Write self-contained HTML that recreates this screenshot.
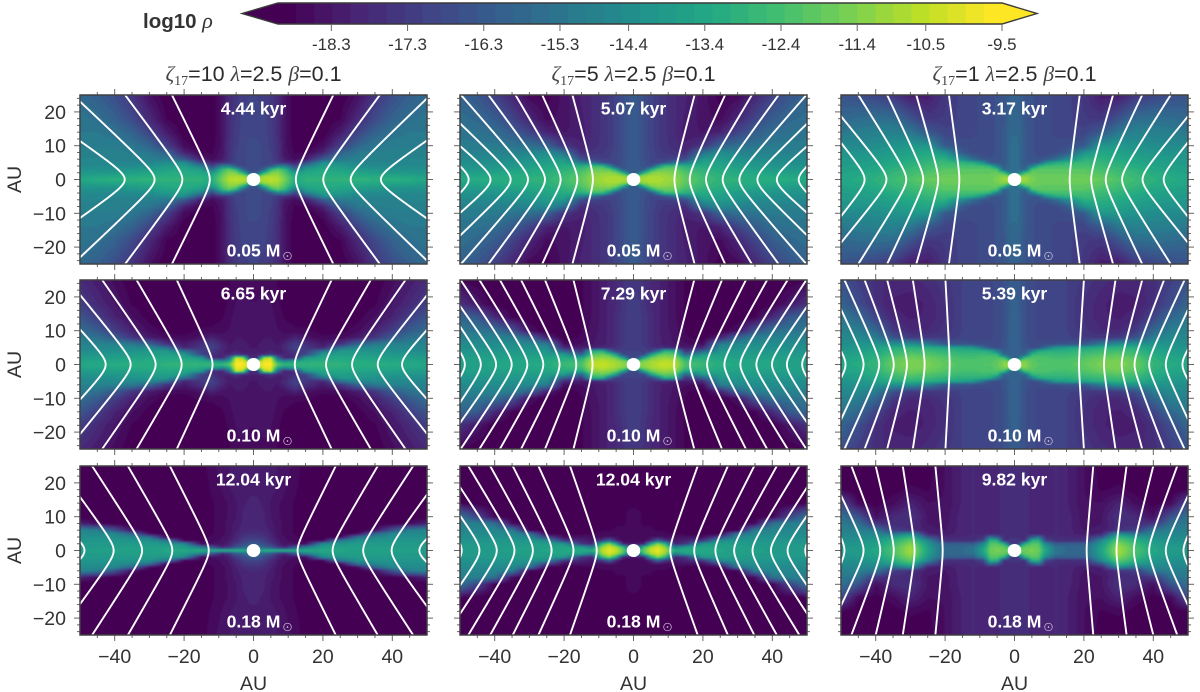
<!DOCTYPE html>
<html lang="en">
<head>
<meta charset="utf-8">
<title>Density maps</title>
<style>
html,body{margin:0;padding:0;background:#fff;width:1200px;height:692px;overflow:hidden}
#stage{position:relative;width:1200px;height:692px}
canvas{position:absolute;display:block;filter:blur(0.5px)}
svg{position:absolute;left:0;top:0}
text{font-family:"Liberation Sans",sans-serif}
</style>
</head>
<body>
<div id="stage">
<svg id="overlay" width="1200" height="692" viewBox="0 0 1200 692"></svg>
</div>
<script>
/* ---------- shared axes of the density grids (AU, mirrored about 0) ---------- */
const gridAbsX = [1,3,5,7,9,12,15,20,25,30,35,40,45,50];
const gridAbsY = [0,1,2,3,4,5,6,8,10,14,18,25];

/* ---------- tick labels ---------- */
const xTickValues = [-40,-20,0,20,40];
const xMinorValues = [-45,-35,-30,-25,-15,-10,-5,5,10,15,25,30,35,45];
const yTickValues = [-20,-10,0,10,20];
const yMinorValues = [-24,-22,-18,-16,-14,-12,-8,-6,-4,-2,2,4,6,8,12,14,16,18,22,24];
const colorbarTickValues = [-18.3,-17.3,-16.3,-15.3,-14.4,-13.4,-12.4,-11.4,-10.5,-9.5];
const colorbarTickLabels = ["-18.3","-17.3","-16.3","-15.3","-14.4","-13.4","-12.4","-11.4","-10.5","-9.5"];
const columnZeta = ["10","5","1"];
const timeLabels = ["4.44 kyr","5.07 kyr","3.17 kyr","6.65 kyr","7.29 kyr","5.39 kyr","12.04 kyr","12.04 kyr","9.82 kyr"];
const massLabels = ["0.05 M","0.05 M","0.05 M","0.10 M","0.10 M","0.10 M","0.18 M","0.18 M","0.18 M"];

/* ---------- density grids: values are -log10(rho), rows follow gridAbsY, columns gridAbsX ---------- */
const heatR1C1 = [
[10.8,10.7,10.6,10.7,11.5,13.2,13.0,12.9,12.9,12.9,13.0,13.0,13.2,13.4],
[11.8,11.0,10.8,10.9,11.8,13.4,13.1,13.1,13.1,13.2,13.3,13.4,13.5,13.7],
[16.5,13.0,11.5,11.3,12.2,13.9,13.4,13.2,13.3,13.5,13.7,13.9,14.0,14.0],
[16.8,16.0,13.0,12.0,12.8,15.5,13.8,13.4,13.6,13.9,14.1,14.3,14.3,14.3],
[16.8,16.9,16.5,15.0,15.0,17.0,15.0,13.7,13.9,14.3,14.5,14.5,14.5,14.5],
[16.8,16.9,17.0,17.3,17.6,18.0,16.8,14.4,14.4,14.7,14.7,14.7,14.6,14.6],
[16.8,16.9,17.1,17.5,18.2,18.6,18.2,16.3,15.1,14.9,14.8,14.8,14.7,14.7],
[16.8,16.9,17.1,17.6,18.4,18.8,18.8,18.0,16.0,15.2,15.0,14.9,14.9,14.9],
[16.8,16.9,17.2,17.6,18.4,18.9,19.0,18.6,17.2,15.9,15.2,15.0,15.0,15.0],
[16.9,17.0,17.2,17.7,18.4,19.0,19.0,19.0,18.2,17.0,16.0,15.4,15.2,15.2],
[17.0,17.0,17.3,17.7,18.4,19.0,19.0,19.0,18.8,17.8,16.8,16.0,15.5,15.3],
[17.1,17.2,17.4,17.8,18.4,19.0,19.0,19.0,19.0,18.5,17.5,16.7,16.1,15.7]];
const heatR1C2 = [
[10.9,10.9,10.8,10.8,10.9,11.2,11.9,12.5,12.9,13.0,13.1,13.1,13.2,13.3],
[11.5,11.0,10.9,10.9,11.0,11.3,12.0,12.6,13.0,13.1,13.2,13.3,13.4,13.5],
[16.3,13.0,11.5,11.2,11.3,11.5,12.2,12.8,13.1,13.3,13.4,13.6,13.7,13.8],
[16.3,16.3,13.5,12.0,11.8,11.9,12.6,13.0,13.3,13.5,13.7,13.9,14.0,14.0],
[16.3,16.5,16.8,14.5,12.7,12.6,13.1,13.2,13.5,13.8,14.0,14.1,14.2,14.2],
[16.3,16.5,16.9,17.0,16.5,15.5,15.0,13.5,13.7,14.0,14.2,14.3,14.4,14.4],
[16.3,16.6,16.9,17.1,17.1,17.0,16.7,13.9,13.9,14.2,14.4,14.5,14.5,14.5],
[16.3,16.6,16.9,17.2,17.4,17.5,17.7,15.5,14.4,14.8,14.8,14.8,14.9,14.9],
[16.3,16.6,17.0,17.3,17.5,17.7,18.0,17.5,16.0,15.5,15.3,15.1,15.1,15.1],
[16.3,16.6,17.0,17.3,17.5,17.8,18.2,18.3,18.0,17.0,16.2,15.6,15.4,15.3],
[16.3,16.7,17.0,17.3,17.5,17.8,18.1,18.4,18.6,17.9,17.0,16.2,15.8,15.5],
[16.3,16.7,17.0,17.3,17.5,17.8,18.0,18.4,18.9,18.7,17.9,17.1,16.4,16.0]];
const heatR1C3 = [
[11.0,11.0,11.5,11.7,11.7,11.7,11.6,11.6,11.8,12.2,12.6,13.0,13.2,13.4],
[11.3,11.2,11.6,11.8,11.8,11.8,11.8,11.8,12.0,12.4,12.7,13.1,13.3,13.5],
[15.5,12.5,11.8,11.9,11.9,11.9,11.9,11.9,12.2,12.5,12.8,13.2,13.4,13.6],
[15.5,16.0,12.4,12.1,12.1,12.1,12.1,12.1,12.4,12.7,13.0,13.4,13.6,13.7],
[15.5,16.2,15.0,13.0,12.5,12.4,12.4,12.4,12.6,12.9,13.2,13.5,13.7,13.8],
[15.6,16.3,16.4,16.2,14.3,13.2,12.9,12.7,12.8,13.1,13.4,13.7,13.8,13.9],
[15.6,16.3,16.5,16.6,16.4,15.6,14.5,13.0,13.0,13.3,13.5,13.8,13.9,14.0],
[15.6,16.3,16.6,16.7,16.8,16.7,16.3,14.2,13.4,13.6,13.9,14.1,14.2,14.2],
[15.6,16.3,16.6,16.7,16.8,16.8,16.7,16.3,14.0,14.0,14.2,14.4,14.5,14.5],
[15.7,16.3,16.6,16.7,16.8,16.9,17.0,17.0,16.3,15.2,14.8,14.9,15.0,15.2],
[15.8,16.4,16.6,16.7,16.8,16.9,17.0,17.3,17.4,16.5,15.6,15.5,15.6,15.8],
[16.1,16.4,16.6,16.7,16.8,16.9,17.0,17.4,18.2,18.2,17.4,17.0,16.7,16.5]];
const heatR2C1 = [
[10.5,9.7,9.6,12.0,12.8,12.8,12.9,12.9,13.0,13.1,13.2,13.2,13.3,13.5],
[11.5,9.9,9.8,13.5,14.5,13.5,13.2,13.1,13.1,13.2,13.3,13.4,13.5,13.6],
[18.0,11.0,10.3,16.0,18.0,17.8,14.0,13.4,13.4,13.5,13.6,13.7,13.8,13.9],
[18.0,18.0,17.5,18.0,18.0,17.5,17.0,13.9,13.7,13.8,13.9,14.0,14.1,14.1],
[18.2,18.1,18.0,18.2,18.0,17.3,17.2,15.5,14.0,14.0,14.2,14.3,14.4,14.4],
[18.3,18.2,18.2,18.2,17.8,17.0,17.4,18.0,15.5,14.5,14.5,14.5,14.6,14.6],
[18.3,18.2,18.2,18.3,17.9,17.2,17.6,18.2,17.5,15.9,15.1,14.8,14.8,14.8],
[18.4,18.3,18.3,18.4,18.4,18.0,18.4,18.7,18.6,18.2,17.4,16.3,15.4,15.1],
[18.4,18.4,18.4,18.5,18.6,18.7,18.7,18.9,18.9,18.6,18.0,17.2,16.2,15.6],
[18.4,18.4,18.4,18.6,18.8,18.9,19.0,19.0,19.0,18.9,18.5,18.0,17.2,16.4],
[18.5,18.4,18.5,18.7,18.9,19.0,19.0,19.0,19.0,19.0,18.8,18.3,17.8,17.2],
[18.7,18.6,18.6,18.8,19.0,19.0,19.0,19.0,19.0,19.0,19.0,18.6,18.2,17.8]];
const heatR2C2 = [
[11.4,11.2,10.9,10.6,10.4,10.6,12.3,12.7,13.2,13.3,13.4,13.5,13.6,13.6],
[12.0,11.4,11.0,10.8,10.6,10.8,12.6,12.9,13.3,13.4,13.5,13.5,13.6,13.7],
[17.0,13.5,11.8,11.3,11.1,11.3,13.5,13.2,13.5,13.6,13.6,13.7,13.7,13.8],
[17.0,17.0,14.0,12.3,11.8,12.2,16.0,14.0,13.8,13.8,13.8,13.9,13.9,14.0],
[17.1,17.2,17.2,15.5,13.0,13.2,17.5,16.0,14.1,14.0,14.0,14.1,14.1,14.2],
[17.1,17.3,17.5,17.8,17.8,18.0,18.2,17.8,14.4,14.3,14.2,14.3,14.3,14.3],
[17.1,17.4,17.7,18.0,18.1,18.3,18.5,18.5,15.0,14.5,14.4,14.4,14.4,14.5],
[17.1,17.4,17.7,18.0,18.1,18.4,18.7,19.0,18.0,16.0,14.9,14.8,14.8,14.9],
[17.1,17.4,17.7,18.0,18.2,18.4,18.8,19.0,19.0,18.5,16.5,15.5,15.3,15.2],
[17.2,17.4,17.7,18.0,18.2,18.5,18.8,19.0,19.0,19.0,18.8,17.8,16.3,15.8],
[17.2,17.5,17.8,18.0,18.2,18.5,18.8,19.0,19.0,19.0,19.0,19.0,18.3,17.6],
[17.5,17.6,17.8,18.0,18.2,18.5,18.8,19.0,19.0,19.0,19.0,19.0,19.0,18.8]];
const heatR2C3 = [
[11.3,11.3,11.9,12.1,12.1,12.2,12.2,11.9,11.5,11.4,11.8,12.8,13.2,13.4],
[11.5,11.4,12.0,12.2,12.2,12.3,12.3,12.0,11.6,11.5,11.9,12.9,13.3,13.5],
[16.0,12.5,12.2,12.3,12.3,12.4,12.4,12.2,11.8,11.7,12.1,13.0,13.4,13.6],
[16.0,16.0,12.8,12.7,12.7,12.7,12.7,12.5,12.2,12.1,12.5,13.2,13.6,13.8],
[16.0,16.3,15.0,13.3,13.0,13.0,13.0,12.9,12.6,12.5,12.8,13.4,13.8,14.0],
[16.0,16.5,16.7,16.5,15.5,14.0,13.7,13.5,13.1,13.0,13.2,13.7,14.0,14.2],
[16.0,16.5,16.8,16.8,16.7,16.6,16.5,16.3,15.0,14.2,14.2,14.1,14.2,14.4],
[16.0,16.6,16.8,16.9,17.0,17.0,17.0,17.3,17.4,17.3,16.5,15.0,14.5,14.6],
[16.0,16.6,16.8,16.9,17.0,17.0,17.1,17.5,17.8,17.8,17.3,15.8,14.9,14.8],
[16.0,16.6,16.8,16.9,17.0,17.0,17.1,17.6,18.0,18.1,17.9,17.0,15.8,15.2],
[16.1,16.6,16.8,16.9,17.0,17.0,17.1,17.6,18.0,18.2,18.1,17.6,16.7,15.9],
[16.3,16.6,16.8,16.9,17.0,17.0,17.1,17.4,17.7,17.9,17.9,17.7,17.2,16.6]];
const heatR3C1 = [
[14.0,12.9,12.9,13.0,13.0,13.0,13.2,13.4,13.5,13.6,13.6,13.7,13.7,13.8],
[15.5,16.0,16.5,17.5,18.0,16.5,15.0,13.7,13.6,13.7,13.7,13.8,13.8,13.9],
[16.3,16.8,17.3,18.0,18.4,18.5,18.7,14.5,14.0,13.9,13.9,13.9,13.9,13.9],
[16.9,17.2,17.7,18.2,18.5,18.6,18.8,18.7,15.3,14.2,14.1,14.1,14.1,14.1],
[17.3,17.5,17.9,18.3,18.5,18.7,18.9,19.0,18.8,15.5,14.6,14.3,14.3,14.3],
[17.6,17.7,18.0,18.4,18.6,18.8,19.0,19.0,19.0,18.6,16.0,14.6,14.5,14.5],
[17.8,17.9,18.1,18.4,18.6,18.8,19.0,19.0,19.0,19.0,18.5,16.5,14.9,14.7],
[17.9,18.0,18.2,18.4,18.6,18.8,19.0,19.0,19.0,19.0,19.0,19.0,18.6,18.0],
[17.9,18.0,18.3,18.5,18.6,18.8,19.0,19.0,19.0,19.0,19.0,19.0,19.0,19.0],
[18.0,18.1,18.3,18.5,18.6,18.8,19.0,19.0,19.0,19.0,19.0,19.0,19.0,19.0],
[18.1,18.1,18.2,18.3,18.5,18.7,19.0,19.0,19.0,19.0,19.0,19.0,19.0,19.0],
[18.2,18.2,18.2,18.3,18.4,18.6,18.9,19.0,19.0,19.0,19.0,19.0,19.0,19.0]];
const heatR3C2 = [
[14.0,11.8,10.4,9.9,10.6,13.2,13.2,13.3,13.5,13.6,13.7,13.8,13.8,13.8],
[16.0,12.5,10.9,10.2,11.0,15.0,13.7,13.5,13.6,13.7,13.8,13.8,13.9,13.9],
[18.3,18.0,13.5,11.3,12.8,18.0,17.5,14.0,13.8,13.8,13.9,13.9,14.0,14.0],
[18.7,18.7,18.0,16.0,17.5,18.3,18.0,17.5,14.5,14.1,14.1,14.1,14.2,14.2],
[18.7,18.7,18.5,18.4,18.5,18.5,18.4,18.5,17.0,14.5,14.3,14.3,14.3,14.4],
[18.7,18.7,18.7,18.7,18.7,18.8,18.9,18.9,18.9,15.5,14.6,14.5,14.5,14.5],
[18.7,18.7,18.7,18.8,18.8,18.9,19.0,19.0,19.0,18.8,15.0,14.6,14.6,14.7],
[18.7,18.8,18.8,18.9,19.0,19.0,19.0,19.0,19.0,19.0,18.6,15.5,14.9,15.0],
[18.7,18.8,18.9,19.0,19.0,19.0,19.0,19.0,19.0,19.0,19.0,18.8,17.0,15.4],
[18.8,18.8,18.9,19.0,19.0,19.0,19.0,19.0,19.0,19.0,19.0,19.0,19.0,18.8],
[18.8,18.9,18.9,19.0,19.0,19.0,19.0,19.0,19.0,19.0,19.0,19.0,19.0,19.0],
[19.0,19.0,19.0,19.0,19.0,19.0,19.0,19.0,19.0,19.0,19.0,19.0,19.0,19.0]];
const heatR3C3 = [
[11.9,11.7,11.5,11.8,13.5,15.3,15.7,15.9,13.5,10.9,12.3,13.4,13.8,14.0],
[12.5,11.9,11.7,11.9,13.8,15.4,15.7,15.9,13.7,11.0,12.4,13.5,13.9,14.1],
[17.5,13.0,12.1,12.2,14.6,16.2,16.2,16.1,14.0,11.4,12.7,13.7,14.1,14.2],
[17.5,17.6,13.0,13.0,17.0,17.7,17.7,17.7,14.6,12.0,13.1,14.0,14.3,14.4],
[17.6,17.7,16.5,15.5,17.6,17.8,17.8,17.9,16.5,12.8,13.8,14.3,14.5,14.5],
[17.6,17.7,17.9,18.0,17.9,17.8,17.9,18.2,18.0,14.5,15.5,14.7,14.7,14.7],
[17.6,17.7,17.9,18.0,17.9,17.8,17.9,18.3,18.2,17.6,17.2,15.2,14.9,14.9],
[17.6,17.7,17.9,18.0,17.9,17.8,17.9,18.4,18.3,17.7,17.8,17.5,15.5,15.1],
[17.6,17.7,17.9,18.0,17.9,17.8,17.9,18.4,18.3,17.5,17.8,18.5,16.5,15.4],
[17.6,17.7,17.9,18.0,17.9,17.8,18.0,18.5,18.5,18.0,18.6,18.9,18.7,16.8],
[17.6,17.7,17.9,18.0,17.9,17.8,18.0,18.5,18.8,18.7,18.9,19.0,19.0,18.8],
[17.7,17.7,17.9,18.0,17.9,17.8,18.0,18.5,18.9,19.0,19.0,19.0,19.0,19.0]];

/* ---------- field lines: x (AU) where each line crosses the midplane, and x (AU) it reaches at |y|=25 ---------- */
const lineMidR1C1 = [-37.1,-28.5,-20.5,-12.6,12.2,20.1,28.0,36.7];
const lineTopR1C1 = [-69,-52,-37,-23.5,23,36.4,51,69];
const lineMidR1C2 = [-47.5,-41.2,-35.4,-30.4,-25.5,-21,-16.2,-11.7,11.8,16.2,20.9,25.7,30.5,35.7,41.3,47.6];
const lineTopR1C2 = [-73,-67,-58.5,-49.7,-41.8,-34,-26.3,-17.6,17.6,26.4,34.1,41.8,49.8,58.5,67,73];
const lineMidR1C3 = [-43.2,-36.9,-31.2,-26.3,-22,-15.9,15.9,22.1,26.3,31,36.9,43];
const lineTopR1C3 = [-61,-55,-45,-36.7,-28.3,-18.9,18.8,28.4,36.8,45,55,61];
const lineMidR2C1 = [-42.6,-35.4,-28.2,-20.7,-11.8,11.9,20.9,28.4,35.8,42.8];
const lineTopR2C1 = [-63,-53.5,-43.6,-33.7,-22.1,22.5,33.8,43.8,53.5,63];
const lineMidR2C2 = [-48.6,-44,-39.6,-35.1,-30.6,-26,-21.3,-16.5,-11.8,11.7,16.3,21.2,26.2,30.8,35.4,39.9,44.2,48.6];
const lineTopR2C2 = [-64,-59,-55.3,-49.8,-44.4,-38.5,-32.4,-25.5,-17.3,17.5,25.5,32.4,38.5,44.4,49.8,55.3,59,64];
const lineMidR2C3 = [-48.7,-43.5,-39,-34.8,-31,-25.9,-18.7,18.6,25.8,30.9,34.6,38.8,43.6,48.4];
const lineTopR2C3 = [-62,-54,-49,-43.2,-36.7,-29.3,-19.9,20,29.1,36.8,43.1,49,54,62];
const lineMidR3C1 = [-48.7,-40.3,-32.1,-23.4,-12.9,12.7,22.8,31.6,39.8,47.8];
const lineTopR3C1 = [-75,-56.5,-46.5,-36.2,-24.1,23.7,35.8,46,56,75];
const lineMidR3C2 = [-49.5,-44.4,-39.4,-34.3,-29,-23.6,-17.3,-10.6,10.6,17.5,23.6,29,34.3,39.6,44.4,49.5];
const lineTopR3C2 = [-65,-60,-54,-47.6,-41.3,-34.8,-27.4,-18.3,18.5,27.2,34.8,41.3,47.8,54,60,65];
const lineMidR3C3 = [-49,-43.5,-38.7,-34.8,-28.8,-20.7,20.8,29.4,34.4,38.8,43.6,48.7];
const lineTopR3C3 = [-60,-54,-47,-40,-32.2,-22.8,22.7,32.3,40,46.9,54,60];

const panelHeats = [heatR1C1,heatR1C2,heatR1C3,heatR2C1,heatR2C2,heatR2C3,heatR3C1,heatR3C2,heatR3C3];
const panelLineMids = [lineMidR1C1,lineMidR1C2,lineMidR1C3,lineMidR2C1,lineMidR2C2,lineMidR2C3,lineMidR3C1,lineMidR3C2,lineMidR3C3];
const panelLineTops = [lineTopR1C1,lineTopR1C2,lineTopR1C3,lineTopR2C1,lineTopR2C2,lineTopR2C3,lineTopR3C1,lineTopR3C2,lineTopR3C3];

/* ---------- colour scale ---------- */
const viridisStops = [[68,1,84],[72,36,117],[65,68,135],[53,95,141],[42,120,142],[33,145,140],[34,168,132],[68,191,112],[122,209,81],[189,223,38],[253,231,37]];
const LOG_MIN = -19, LOG_MAX = -9.5, LEVELS = 40;

function viridis(t){
  t = Math.max(0,Math.min(1,t));
  const f = t*10, i = Math.min(9,Math.floor(f)), r = f-i;
  const a = viridisStops[i], b = viridisStops[i+1];
  return [a[0]+(b[0]-a[0])*r, a[1]+(b[1]-a[1])*r, a[2]+(b[2]-a[2])*r];
}
function levelColor(logRho){
  const k = Math.max(0,Math.min(LEVELS-1,Math.floor((logRho-LOG_MIN)/(LOG_MAX-LOG_MIN)*LEVELS)));
  return viridis(k/(LEVELS-1));
}
function css(c){return 'rgb('+Math.round(c[0])+','+Math.round(c[1])+','+Math.round(c[2])+')';}

/* ---------- layout ---------- */
const colLeft = [80,460,841];
const rowTop = [95,280,466];
const PW = 347, PH = 169;
const NS = 'http://www.w3.org/2000/svg';
const overlay = document.getElementById('overlay');
const stage = document.getElementById('stage');

function mk(tag,attrs,parent){
  const el = document.createElementNS(NS,tag);
  for(const k in attrs) el.setAttribute(k,attrs[k]);
  (parent||overlay).appendChild(el);
  return el;
}
function locate(axis,v){
  if(v<=axis[0]) return [0,0];
  for(let i=0;i<axis.length-1;i++){
    if(v<=axis[i+1]) return [i,(v-axis[i])/(axis[i+1]-axis[i])];
  }
  return [axis.length-2,1];
}
function sampleHeat(grid,ax,ay){
  const p = locate(gridAbsX,ax), q = locate(gridAbsY,ay);
  const a = grid[q[0]][p[0]], b = grid[q[0]][p[0]+1], c = grid[q[0]+1][p[0]], d = grid[q[0]+1][p[0]+1];
  const top = a+(b-a)*p[1], bot = c+(d-c)*p[1];
  return -(top+(bot-top)*q[1]);
}
function tickLabelText(v){return v<0 ? '\u2212'+Math.abs(v) : String(v);}

/* ---------- colourbar ---------- */
const cbLeft = 278, cbRight = 1002, cbTop = 3, cbBottom = 24, cbTipL = 242, cbTipR = 1037;
function cbX(v){return cbRight-(-9.5-v)*(cbRight-cbLeft)/(LOG_MAX-LOG_MIN);}

const cbGroup = mk('g',{});


const cbLow = mk('polygon',{points:cbLeft+','+cbTop+' '+cbLeft+','+cbBottom+' '+cbTipL+','+((cbTop+cbBottom)/2),fill:css(viridis(0))},cbGroup);


const cbHigh = mk('polygon',{points:cbRight+','+cbTop+' '+cbRight+','+cbBottom+' '+cbTipR+','+((cbTop+cbBottom)/2),fill:css(viridis(1))},cbGroup);


for(let k=0;k<LEVELS;k++){
  const w = (cbRight-cbLeft)/LEVELS;
  const band = mk('rect',{x:cbLeft+k*w,y:cbTop,width:w+0.6,height:cbBottom-cbTop,fill:css(viridis(k/(LEVELS-1)))},cbGroup);
  
  
}
const cbOutline = mk('polygon',{points:cbTipL+','+((cbTop+cbBottom)/2)+' '+cbLeft+','+cbTop+' '+cbRight+','+cbTop+' '+cbTipR+','+((cbTop+cbBottom)/2)+' '+cbRight+','+cbBottom+' '+cbLeft+','+cbBottom,fill:'none',stroke:'#3a3a3a','stroke-width':1.4},cbGroup);


colorbarTickValues.forEach(function(v,i){
  const x = cbX(v);
  const t = mk('line',{x1:x,x2:x,y1:cbBottom,y2:cbBottom+7,stroke:'#666','stroke-width':1},cbGroup);
  
  
  const l = mk('text',{x:x,y:50,'text-anchor':'middle','font-size':17,fill:'#333'},cbGroup);
  l.textContent = colorbarTickLabels[i];
  
  
});
const cbTitle = mk('text',{x:143,y:28,'font-size':20.5,'font-weight':'bold',fill:'#333'});


cbTitle.appendChild(document.createTextNode('log10 '));
const cbRho = mk('tspan',{'font-family':'"Liberation Serif",serif','font-style':'italic','font-weight':'normal','font-size':22},cbTitle);
cbRho.textContent = '\u03C1';

/* ---------- column titles ---------- */
columnZeta.forEach(function(z,c){
  const t = mk('text',{x:colLeft[c]+PW/2,y:81,'text-anchor':'middle','font-size':21.5,fill:'#2b2b2b'});
  
  
  const serif = {'font-family':'"Liberation Serif",serif','font-style':'italic','fill':'#444'};
  mk('tspan',serif,t).textContent = '\u03B6';
  mk('tspan',{'font-family':'"Liberation Serif",serif','font-size':14,dy:4,fill:'#444'},t).textContent = '17';
  mk('tspan',{dy:-4},t).textContent = '='+z+' ';
  mk('tspan',serif,t).textContent = '\u03BB';
  mk('tspan',{},t).textContent = '=2.5 ';
  mk('tspan',serif,t).textContent = '\u03B2';
  mk('tspan',{},t).textContent = '=0.1';
});

/* ---------- panels ---------- */
const defs = mk('defs',{});
panelHeats.forEach(function(grid,n){
  const r = Math.floor(n/3), c = n%3;
  const L = colLeft[c], T = rowTop[r];
  const X = function(a){return L+(a+50)*PW/100;};
  const Y = function(a){return T+(25-a)*PH/50;};

  /* density image */
  const cv = document.createElement('canvas');
  cv.width = PW; cv.height = PH;
  cv.style.left = L+'px'; cv.style.top = T+'px';
  
  
  stage.insertBefore(cv,overlay);
  const ctx = cv.getContext('2d');
  const img = ctx.createImageData(PW,PH);
  for(let py=0;py<PH;py++){
    const ay = Math.abs(25-(py+0.5)*50/PH);
    for(let px=0;px<PW;px++){
      const ax = Math.abs((px+0.5)*100/PW-50);
      const col = levelColor(sampleHeat(grid,ax,ay));
      const o = (py*PW+px)*4;
      img.data[o]=col[0]; img.data[o+1]=col[1]; img.data[o+2]=col[2]; img.data[o+3]=255;
    }
  }
  ctx.putImageData(img,0,0);

  const g = mk('g',{});
  
  

  /* field lines */
  const clip = mk('clipPath',{id:'clip'+n},defs);
  mk('rect',{x:L,y:T,width:PW,height:PH},clip);
  const lg = mk('g',{'clip-path':'url(#clip'+n+')'},g);
  const mids = panelLineMids[n], tops = panelLineTops[n];
  const e = 2.5;
  mids.forEach(function(m,i){
    let d = '';
    for(let ya=-25;ya<=25.01;ya+=0.5){
      const s = (Math.sqrt(ya*ya+e*e)-e)/(Math.sqrt(625+e*e)-e);
      const xa = m+(tops[i]-m)*s;
      d += (d?'L':'M')+X(xa).toFixed(2)+' '+Y(ya).toFixed(2);
    }
    const p = mk('path',{d:d,fill:'none',stroke:'#fff','stroke-width':1.9},lg);
    
    
  });

  /* central star */
  const star = mk('ellipse',{cx:X(0),cy:Y(0),rx:6.8,ry:6.5,fill:'#fff'},g);
  
  

  /* annotations */
  const tl = mk('text',{x:X(0),y:T+19.3,'text-anchor':'middle','font-size':17.6,'font-weight':'bold',fill:'#fff'},g);
  tl.textContent = timeLabels[n];
  
  
  const ml = mk('text',{x:X(0),y:T+161.7,'text-anchor':'middle','font-size':17.6,'font-weight':'bold',fill:'#fff'},g);
  ml.textContent = massLabels[n];
  
  
  const sun = mk('circle',{cx:X(0)+34,cy:T+161,r:3.8,fill:'none',stroke:'#d8c8e0','stroke-width':0.7},g);
  
  
  const sunDot = mk('circle',{cx:X(0)+34,cy:T+161,r:0.8,fill:'#e8e0ee'},g);
  
  

  /* ticks */
  const tickColor = '#666';
  xTickValues.concat(xMinorValues).forEach(function(v,i){
    const major = i<xTickValues.length, len = major?6:3;
    [[T,T-len],[T+PH,T+PH+len]].forEach(function(s){
      const t = mk('line',{x1:X(v),x2:X(v),y1:s[0],y2:s[1],stroke:tickColor,'stroke-width':1},g);
      
      
    });
  });
  yTickValues.concat(yMinorValues).forEach(function(v,i){
    const major = i<yTickValues.length, len = major?6:3;
    [[L,L-len],[L+PW,L+PW+len]].forEach(function(s){
      const t = mk('line',{x1:s[0],x2:s[1],y1:Y(v),y2:Y(v),stroke:tickColor,'stroke-width':1},g);
      
      
    });
  });

  /* frame */
  const frame = mk('rect',{x:L,y:T,width:PW,height:PH,fill:'none',stroke:'#3a3a3a','stroke-width':1.4},g);
  
  

  /* tick labels */
  if(c===0){
    yTickValues.forEach(function(v){
      const t = mk('text',{x:66,y:Y(v)+7,'text-anchor':'end','font-size':19.5,fill:'#333'},g);
      t.textContent = tickLabelText(v);
      
      
    });
    const yt = mk('text',{x:0,y:0,transform:'translate(21,'+Y(0)+') rotate(-90)','text-anchor':'middle','font-size':19.5,fill:'#333'},g);
    yt.textContent = 'AU';
    
    
  }
  if(r===2){
    xTickValues.forEach(function(v){
      const t = mk('text',{x:X(v),y:663,'text-anchor':'middle','font-size':19.5,fill:'#333'},g);
      t.textContent = tickLabelText(v);
      
      
    });
    const xt = mk('text',{x:X(0),y:690,'text-anchor':'middle','font-size':19.5,fill:'#333'},g);
    xt.textContent = 'AU';
    
    
  }
});
</script>
</body>
</html>
